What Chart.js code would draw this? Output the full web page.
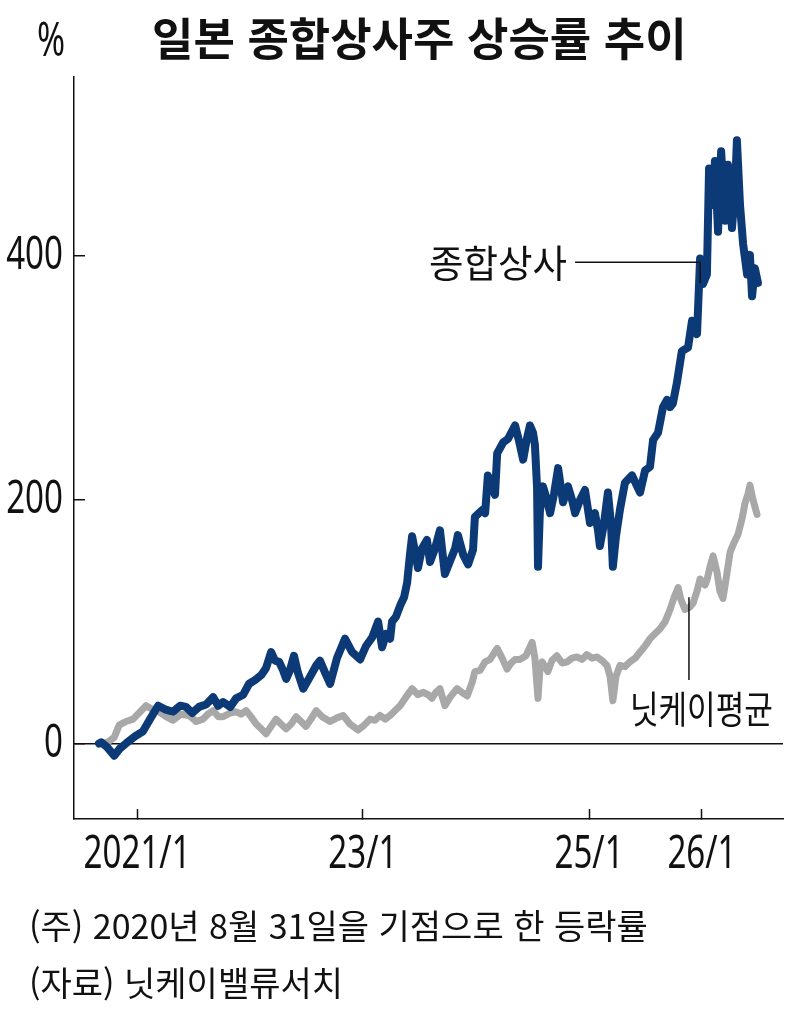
<!DOCTYPE html>
<html lang="ko">
<head>
    <meta charset="UTF-8">
    <title>일본 종합상사주 상승률 추이</title>
    <script src="https://cdn.jsdelivr.net/npm/chart.js"></script>
    <style>
        body {
            margin: 0;
            background: #fff;
        }
        .wrap {
            position: relative;
            width: 800px;
            height: 1012px;
            overflow: hidden;
        }
        canvas {
            position: absolute;
            left: 0;
            top: 0;
        }
        .txt {
            position: absolute;
            white-space: nowrap;
            line-height: 1;
            color: #111;
        }
        #title {
            left: 152px;
            top: 4px;
            font: 700 45px 'Noto Sans CJK KR', sans-serif;
        }
        #unit {
            left: 37px;
            top: 6px;
            font: 47px 'Noto Sans', 'DejaVu Sans', sans-serif;
            transform: scaleX(0.72);
            transform-origin: left top;
        }
        .note {
            left: 29px;
            font: 34px 'Noto Sans CJK KR', sans-serif;
        }
    </style>
</head>
<body>
<div class="wrap">
    <canvas id="chart" width="800" height="1012"></canvas>
    <div class="txt" id="title">일본 종합상사주 상승률 추이</div>
    <div class="txt" id="unit">%</div>
    <div class="txt note" style="top:900px">(주) 2020년 8월 31일을 기점으로 한 등락률</div>
    <div class="txt note" style="top:957px">(자료) 닛케이밸류서치</div>
</div>

<script>
    // rise rate (%) since 2020-08-31
    const shoshaDates = [
        '2020-08-31','2020-09-07','2020-09-26','2020-10-19','2020-11-07','2020-11-26','2020-12-26',
        '2021-01-20','2021-02-12','2021-03-10','2021-04-01','2021-04-27','2021-05-20','2021-06-08','2021-06-28','2021-07-20','2021-08-12','2021-09-04','2021-09-20','2021-10-06','2021-10-29','2021-11-17','2021-12-10','2021-12-29',
        '2022-01-17','2022-02-06','2022-02-22','2022-03-10','2022-03-23','2022-04-05','2022-04-18','2022-04-28','2022-05-10','2022-05-23','2022-06-05','2022-06-22','2022-07-08','2022-08-03','2022-08-15','2022-09-01','2022-09-17','2022-10-09','2022-11-04','2022-11-27','2022-12-23',
        '2023-01-11','2023-01-31','2023-02-19','2023-03-04','2023-03-17','2023-03-30','2023-04-05','2023-04-18','2023-05-01','2023-05-14','2023-05-24','2023-06-02','2023-06-09','2023-06-18','2023-06-28','2023-07-11','2023-07-27','2023-08-06','2023-08-22','2023-09-07','2023-09-23','2023-10-10','2023-10-26','2023-11-04','2023-11-21','2023-12-07','2023-12-23','2023-12-29',
        '2024-01-15','2024-01-24','2024-01-31','2024-02-09','2024-02-22','2024-03-03','2024-03-10','2024-03-29','2024-04-14','2024-05-07','2024-05-20','2024-06-02','2024-06-14','2024-06-24','2024-07-04','2024-07-10','2024-07-17','2024-07-20','2024-07-26','2024-08-05','2024-08-18','2024-08-28','2024-09-10','2024-09-23','2024-10-02','2024-10-09','2024-10-25','2024-11-07','2024-11-17','2024-12-03','2024-12-19',
        '2025-01-04','2025-01-20','2025-01-30','2025-02-05','2025-02-18','2025-03-03','2025-03-13','2025-03-19','2025-03-29','2025-04-11','2025-04-27','2025-05-20','2025-06-02','2025-06-15','2025-07-01','2025-07-17','2025-07-27','2025-08-12','2025-08-28','2025-09-10','2025-09-20','2025-09-29','2025-10-12','2025-10-28','2025-11-17','2025-11-30','2025-12-16','2025-12-26',
        '2026-01-04','2026-01-17','2026-01-24','2026-01-31','2026-02-06','2026-02-12','2026-02-22','2026-03-04','2026-03-17','2026-03-26','2026-04-08','2026-04-18','2026-04-24','2026-05-04','2026-05-14','2026-05-27','2026-06-05','2026-06-12','2026-06-21','2026-07-01'
    ];
    const shoshaValues = [
        0, 1, -3, -10, -4, 0, 6,
        10, 20, 31, 28, 26, 31, 30, 25, 30, 32, 38, 31, 34, 30, 37, 40, 49,
        52, 56, 62, 75, 68, 67, 60, 53, 60, 72, 58, 45, 52, 64, 68, 58, 49, 70, 86, 75, 69,
        80, 87, 100, 79, 90, 86, 100, 104, 113, 120, 132, 155, 170, 158, 144, 160, 167, 149, 160, 175, 139, 150, 160, 171, 155, 147, 159, 186,
        190, 192, 189, 220, 210, 204, 238, 247, 250, 261, 248, 233, 250, 261, 255, 245, 210, 145, 190, 211, 200, 189, 205, 226, 210, 198, 211, 200, 189, 200, 208,
        181, 189, 175, 162, 180, 206, 180, 145, 170, 192, 214, 220, 213, 206, 224, 227, 249, 255, 276, 282, 276, 279, 296, 322, 325, 347, 336, 398,
        377, 385, 472, 455, 442, 478, 420, 486, 429, 475, 423, 455, 495, 442, 410, 385, 401, 367, 390, 378
    ];

    const nikkeiDates = [
        '2020-08-31','2020-09-07','2020-09-20','2020-10-03','2020-10-19','2020-11-04','2020-11-26','2020-12-19',
        '2021-01-11','2021-01-30','2021-02-18','2021-03-13','2021-04-05','2021-04-27','2021-05-23','2021-06-18','2021-07-11','2021-08-02','2021-08-18','2021-09-04','2021-09-20','2021-10-06','2021-10-29','2021-11-17','2021-12-03','2021-12-19',
        '2022-01-04','2022-01-21','2022-02-06','2022-02-22','2022-03-10','2022-03-26','2022-04-11','2022-04-28','2022-05-14','2022-05-30','2022-06-15','2022-07-01','2022-07-17','2022-08-03','2022-08-22','2022-09-17','2022-10-09','2022-10-29','2022-11-20','2022-12-16',
        '2023-01-05','2023-01-24','2023-02-09','2023-02-25','2023-03-14','2023-03-30','2023-04-15','2023-05-01','2023-05-20','2023-06-09','2023-06-28','2023-07-14','2023-07-31','2023-08-12','2023-08-25','2023-09-07','2023-09-23','2023-10-10','2023-11-01','2023-11-17','2023-12-04','2023-12-20','2023-12-29',
        '2024-01-15','2024-01-31','2024-02-16','2024-03-10','2024-03-26','2024-04-11','2024-04-24','2024-05-07','2024-05-23','2024-06-11','2024-07-01','2024-07-10','2024-07-20','2024-07-26','2024-08-02','2024-08-21','2024-09-03','2024-09-19','2024-10-06','2024-10-22','2024-11-07','2024-11-23','2024-12-09','2024-12-25',
        '2025-01-11','2025-01-27','2025-02-12','2025-02-28','2025-03-10','2025-03-19','2025-03-29','2025-04-11','2025-04-27','2025-05-13','2025-05-30','2025-06-15','2025-07-01','2025-07-17','2025-08-02','2025-08-18','2025-09-04','2025-09-20','2025-10-03','2025-10-16','2025-10-25','2025-11-07','2025-11-23','2025-12-03','2025-12-16','2025-12-26',
        '2026-01-11','2026-01-17','2026-01-27','2026-02-06','2026-02-19','2026-02-28','2026-03-10','2026-03-23','2026-04-02','2026-04-15','2026-04-28','2026-05-11','2026-05-20','2026-05-30','2026-06-05','2026-06-15','2026-06-28'
    ];
    const nikkeiValues = [
        0, 1, 0, 2, 5, 15, 18, 20,
        26, 31, 28, 26, 22, 19, 24, 23, 18, 20, 24, 27, 22, 22, 25, 26, 24, 27,
        22, 16, 12, 8, 14, 20, 16, 12, 16, 22, 18, 14, 20, 27, 22, 18, 21, 23, 16, 11,
        15, 20, 19, 23, 20, 23, 27, 31, 38, 45, 40, 42, 40, 37, 42, 45, 31, 38, 45, 42, 39, 50, 59,
        60, 67, 69, 78, 70, 61, 66, 69, 69, 72, 83, 70, 37, 60, 67, 59, 68, 72, 66, 67, 70, 71, 69, 73,
        70, 71, 68, 64, 55, 35, 55, 64, 63, 67, 70, 75, 80, 86, 90, 94, 100, 110, 120, 128, 118, 110, 112, 115, 125, 135,
        130, 134, 145, 154, 140, 125, 119, 140, 157, 165, 172, 185, 197, 205, 212, 200, 188
    ];

    const xTickDates = ['2021-01-01', '2023-01-01', '2025-01-01', '2026-01-01'];
    const xTickLabels = ['2021/1', '23/1', '25/1', '26/1'];
    const yTickValues = [0, 200, 400];

    const ms = d => Date.parse(d + 'T00:00:00Z');
    const toPoints = (dates, values) => dates.map((d, i) => ({ x: ms(d), y: values[i] }));

    // series names placed next to the lines, anchored in data space
    const seriesLabels = [
        { text: '종합상사', at: ['2024-10-22', 395], align: 'right', maxWidth: 138,
          leader: [['2024-11-17', 395], ['2025-12-26', 395], ['2025-12-26', 378]] },
        { text: '닛케이평균', at: ['2025-05-13', 29], align: 'left', maxWidth: 143,
          leader: [['2025-11-20', 120], ['2025-11-20', 52]] }
    ];

    const numFont = { family: "'Noto Sans', 'DejaVu Sans', sans-serif", size: 46, lineHeight: 1.2 };
    const squeeze = 0.72;   // the printed digits are narrow

    // no condensed face is installed, so squeeze the axis labels with fillText's maxWidth
    const narrowTicks = {
        id: 'narrowTicks',
        beforeDraw(chart) {
            const ctx = chart.ctx;
            ['x', 'y'].forEach(id => {
                chart.scales[id].getLabelItems().forEach(it => {
                    ctx.font = it.font.string;
                    it.options.maxWidth = ctx.measureText(it.label).width * squeeze;
                });
            });
        }
    };

    const labelPlugin = {
        id: 'seriesLabels',
        afterDatasetsDraw(chart) {
            const { ctx, scales: { x, y } } = chart;
            ctx.save();
            ctx.strokeStyle = '#111';
            ctx.lineWidth = 1.5;
            ctx.fillStyle = '#111';
            ctx.font = "38px 'Noto Sans CJK KR', sans-serif";
            ctx.textBaseline = 'middle';
            seriesLabels.forEach(l => {
                ctx.beginPath();
                l.leader.forEach(([d, v], i) => {
                    const px = x.getPixelForValue(ms(d));
                    const py = y.getPixelForValue(v);
                    if (i === 0) ctx.moveTo(px, py); else ctx.lineTo(px, py);
                });
                ctx.stroke();
                ctx.textAlign = l.align;
                ctx.fillText(l.text, x.getPixelForValue(ms(l.at[0])), y.getPixelForValue(l.at[1]), l.maxWidth);
            });
            ctx.restore();
        }
    };

    new Chart(document.getElementById('chart'), {
        type: 'line',
        data: {
            datasets: [{
                label: '종합상사',
                data: toPoints(shoshaDates, shoshaValues),
                borderColor: '#0c3a76',
                borderWidth: 8
            }, {
                label: '닛케이평균',
                data: toPoints(nikkeiDates, nikkeiValues),
                borderColor: '#a8a8a8',
                borderWidth: 7
            }]
        },
        options: {
            responsive: false,
            animation: false,
            devicePixelRatio: 1,
            layout: { padding: { left: 0, right: 17, top: 77, bottom: 123 } },
            elements: {
                point: { radius: 0 },
                line: { tension: 0, borderJoinStyle: 'round', borderCapStyle: 'round' }
            },
            plugins: {
                legend: { display: false },
                tooltip: { enabled: false }
            },
            scales: {
                x: {
                    type: 'linear',
                    min: ms('2020-06-11'),
                    max: ms('2026-09-20'),
                    afterBuildTicks: s => { s.ticks = xTickDates.map(d => ({ value: ms(d) })); },
                    afterFit: s => { s.height = 70; },
                    border: { color: '#111', width: 1.5 },
                    grid: { drawOnChartArea: false, tickLength: -10, tickColor: '#111', tickWidth: 1.5 },
                    ticks: {
                        autoSkip: false,
                        maxRotation: 0,
                        padding: 18,
                        color: '#111',
                        font: numFont,
                        callback: (v, i) => xTickLabels[i]
                    }
                },
                y: {
                    min: -62,
                    max: 547,
                    afterBuildTicks: s => { s.ticks = yTickValues.map(v => ({ value: v })); },
                    afterFit: s => { s.width = 74; },
                    border: { color: '#111', width: 1.5 },
                    grid: {
                        color: c => c.tick && c.tick.value === 0 ? '#111' : 'rgba(0,0,0,0)',
                        lineWidth: 1.5,
                        tickLength: -11,
                        tickColor: '#111',
                        tickWidth: 1.5
                    },
                    ticks: {
                        padding: 22,
                        color: '#111',
                        font: numFont
                    }
                }
            }
        },
        plugins: [narrowTicks, labelPlugin]
    });
</script>
</body>
</html>
